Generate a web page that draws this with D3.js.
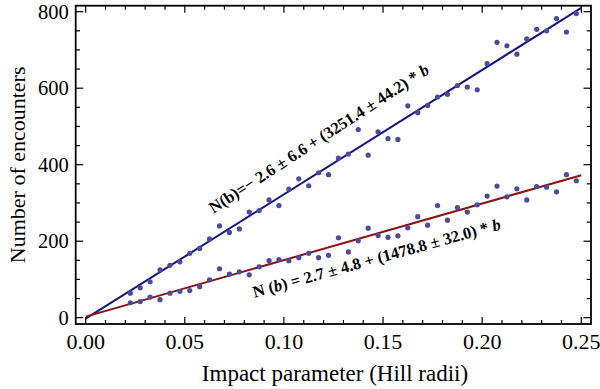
<!DOCTYPE html>
<html>
<head>
<meta charset="utf-8">
<script src="https://cdn.jsdelivr.net/npm/d3@7"></script>
<style>
  body { margin: 0; background: white; }
  text { font-family: "Liberation Serif", "Times New Roman", serif; }
</style>
</head>
<body>
<div id="chart"></div>
<script>
const width = 600,
    height = 389,
    margin = { top: 5.7, bottom: 65, left: 75.7, right: 9 };

// impact parameter bins (Hill radii)
const impact = [0.0225, 0.0275, 0.0325, 0.0375, 0.0425, 0.0475, 0.0525, 0.0575, 0.0625, 0.0675,
    0.0725, 0.0775, 0.0825, 0.0875, 0.0925, 0.0975, 0.1025, 0.1075, 0.1125, 0.1175,
    0.1225, 0.1275, 0.1325, 0.1375, 0.1425, 0.1475, 0.1525, 0.1575, 0.1625, 0.1675,
    0.1725, 0.1775, 0.1825, 0.1875, 0.1925, 0.1975, 0.2025, 0.2075, 0.2125, 0.2175,
    0.2225, 0.2275, 0.2325, 0.2375, 0.2425, 0.2475];

// upper series
const countsUpper = [64, 78, 94, 125, 137, 146, 168, 181, 206, 240,
    223, 232, 276, 280, 308, 293, 336, 363, 345, 379,
    374, 417, 428, 492, 425, 486, 468, 466, 554, 536,
    555, 577, 584, 607, 603, 596, 664, 720, 711, 689,
    729, 754, 750, 782, 747, 795];

// lower series
const countsLower = [39, 42, 54, 47, 64, 69, 71, 81, 99, 128,
    114, 120, 112, 133, 149, 152, 149, 157, 168, 157,
    163, 209, 172, 201, 234, 215, 210, 214, 235, 264,
    242, 293, 255, 288, 276, 295, 318, 344, 316, 337,
    308, 343, 341, 329, 374, 358];

// linear fits N(b) = a + s*b
const fitUpper = { a: -2.6, s: 3251.4 };
const fitLower = { a: 2.7, s: 1478.8 };
const fitRange = [0, 0.25];

const xTicks = [0, 0.05, 0.1, 0.15, 0.2, 0.25];
const yTicks = [0, 200, 400, 600, 800];

const svg = d3.select("#chart")
    .append("svg")
    .attr("width", width)
    .attr("height", height);

const x = d3.scaleLinear()
    .domain([-0.00504, 0.2549])
    .range([margin.left, width - margin.right]);

const y = d3.scaleLinear()
    .domain([-16.5, 815.7])
    .range([height - margin.bottom, margin.top]);

const x0 = margin.left, x1 = width - margin.right,
    y0 = height - margin.bottom, y1 = margin.top;

// ticks on all four sides, pointing inward
const xMinor = d3.range(0, 0.2501, 0.01);
const yMinor = d3.range(0, 801, 50);

const tickG = svg.append("g").attr("stroke", "black").attr("stroke-width", 1.2);
xMinor.forEach(v => {
    const major = Math.abs(v / 0.05 - Math.round(v / 0.05)) < 1e-6;
    const len = major ? 7 : 4;
    tickG.append("line").attr("x1", x(v)).attr("x2", x(v)).attr("y1", y0).attr("y2", y0 - len);
    tickG.append("line").attr("x1", x(v)).attr("x2", x(v)).attr("y1", y1).attr("y2", y1 + len);
});
yMinor.forEach(v => {
    const len = v % 200 === 0 ? 7.5 : 4.3;
    tickG.append("line").attr("y1", y(v)).attr("y2", y(v)).attr("x1", x0).attr("x2", x0 + len);
    tickG.append("line").attr("y1", y(v)).attr("y2", y(v)).attr("x1", x1).attr("x2", x1 - len);
});

svg.append("rect")
    .attr("x", x0).attr("y", y1)
    .attr("width", x1 - x0).attr("height", y0 - y1)
    .attr("fill", "none")
    .attr("stroke", "black")
    .attr("stroke-width", 1.8);

svg.selectAll(".xlab")
    .data(xTicks)
    .join("text")
    .attr("class", "xlab")
    .attr("x", d => x(d))
    .attr("y", y0 + 25)
    .attr("text-anchor", "middle")
    .style("font-size", "22px")
    .text(d => d3.format(".2f")(d));

svg.selectAll(".ylab")
    .data(yTicks)
    .join("text")
    .attr("class", "ylab")
    .attr("x", x0 - 7)
    .attr("y", d => y(d) + 7)
    .attr("text-anchor", "end")
    .style("font-size", "20.5px")
    .text(d => d);

svg.append("text")
    .attr("x", 335)
    .attr("y", 381)
    .attr("text-anchor", "middle")
    .style("font-size", "23px")
    .text("Impact parameter (Hill radii)");

svg.append("text")
    .attr("transform", `translate(25,${(y0 + y1) / 2}) rotate(-90)`)
    .attr("text-anchor", "middle")
    .style("font-size", "22px")
    .text("Number of encounters");

// fit lines
const fitLine = f => fitRange.map(b => [x(b), y(f.a + f.s * b)]);
svg.append("path")
    .attr("d", d3.line()(fitLine(fitUpper)))
    .attr("stroke", "#14147f")
    .attr("stroke-width", 2)
    .attr("fill", "none");
svg.append("path")
    .attr("d", d3.line()(fitLine(fitLower)))
    .attr("stroke", "#8a1414")
    .attr("stroke-width", 2)
    .attr("fill", "none");

// points
const dotColor = "#4b4b9e";
svg.append("g").selectAll("circle")
    .data(impact.map((b, i) => [b, countsUpper[i]]))
    .join("circle")
    .attr("cx", d => x(d[0]))
    .attr("cy", d => y(d[1]))
    .attr("r", 2.6)
    .attr("fill", dotColor);
svg.append("g").selectAll("circle")
    .data(impact.map((b, i) => [b, countsLower[i]]))
    .join("circle")
    .attr("cx", d => x(d[0]))
    .attr("cy", d => y(d[1]))
    .attr("r", 2.6)
    .attr("fill", dotColor);

// fit annotations
const t1 = svg.append("text")
    .attr("transform", `translate(${x(0.0645)},${y(272)}) rotate(-33)`)
    .style("font-size", "16.5px")
    .style("font-weight", "bold");
t1.append("tspan").text("N(b)=\u2212 2.6 \u00b1 6.6 + (3251.4 \u00b1 44.2) * ");
t1.append("tspan").style("font-style", "italic").text("b");

const t2 = svg.append("text")
    .attr("transform", `translate(${x(0.0852)},${y(52)}) rotate(-15.5)`)
    .style("font-size", "16.5px")
    .style("font-weight", "bold");
t2.append("tspan").text("N (");
t2.append("tspan").style("font-style", "italic").text("b");
t2.append("tspan").text(") = 2.7 \u00b1 4.8 + (1478.8 \u00b1 32.0) * ");
t2.append("tspan").style("font-style", "italic").text("b");
</script>
</body>
</html>
